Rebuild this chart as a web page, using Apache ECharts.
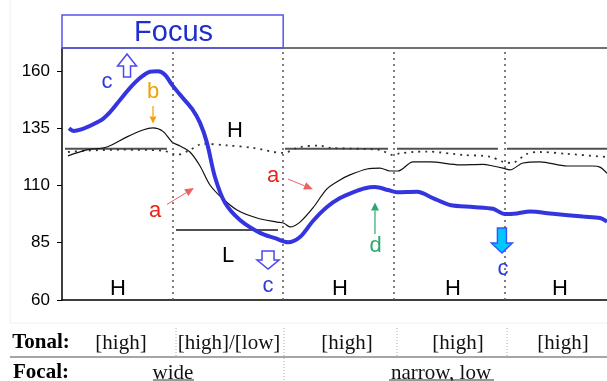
<!DOCTYPE html>
<html><head><meta charset="utf-8">
<script src="https://cdn.jsdelivr.net/npm/echarts@6/dist/echarts.min.js"></script>
<style>html,body{margin:0;padding:0;background:#fff;}#c{width:607px;height:381px;}</style>
</head><body><div id="c"></div>
<script>
// ---- data (x in syllable units, y = F0 in Hz) ----
const yTicks = [60, 85, 110, 135, 160];
const boundaries = [1, 2, 3, 4];
const focusX = [0.063,0.108,0.344,0.434,0.524,0.615,0.705,0.796,0.868,0.931,0.995,1.085,1.175,1.248,1.311,1.383,1.474,1.609,1.790,1.926,2.043,2.152,2.269,2.396,2.514,2.631,2.740,2.830,2.948,3.029,3.210,3.354,3.508,3.716,3.897,4.005,4.114,4.231,4.439,4.711,4.864,4.928];
const focusF0 = [135,133.8,138.2,142,147.3,152.6,156.9,159.6,159.8,158.3,153.9,148.6,143.5,137.3,128.6,113.7,102.4,94.9,89.3,87,85.2,87.5,94.5,100.6,104.5,107,108.8,109.3,108,107,107.2,104.5,101.5,100.6,99.8,97.5,97.8,98.6,97.6,96.4,95.8,94.2];
const neutralX = [0.054,0.226,0.407,0.588,0.732,0.823,0.913,0.995,1.067,1.157,1.248,1.338,1.447,1.582,1.763,1.944,2.007,2.061,2.152,2.269,2.396,2.514,2.604,2.758,2.875,2.966,3.038,3.174,3.327,3.600,3.807,3.897,3.987,4.051,4.168,4.322,4.566,4.801,4.864,4.928];
const neutralF0 = [122.9,125.5,126.8,131.2,134.2,135.1,133.6,129,127.2,124.6,118.5,110.2,104.5,99.3,95.8,94,93.5,91.9,94,100.2,108.5,112.4,114.6,117.2,117.6,116.3,116.3,120.3,120.3,119,119.2,118.5,117.6,116.8,119.8,120.3,118.5,118.5,118,115.3];
const dottedX = [0.054,0.226,0.524,0.913,1.040,1.157,1.275,1.492,1.727,2.000,2.152,2.333,2.423,2.875,2.993,3.056,3.174,3.300,3.625,3.870,3.987,4.068,4.205,4.322,4.566,4.928];
const dottedF0 = [124.6,125.2,125.6,125.2,123.3,125.5,128.2,127.5,126.4,124.2,126.8,127.4,126.4,125.5,123.3,124,124.6,124.8,123.3,122.6,120.3,119.8,123.8,124.6,123.8,122.4];
const hLevel = 126;
const hSpans = [[0.027,0.949],[2.016,2.948],[3.029,3.942],[4.023,4.928]];
const lLevel = 90.6;
const lSpans = [[1.031,1.953]];
const bottomTones = [[0.506,'H'],[2.514,'H'],[3.535,'H'],[4.503,'H']];
const tonalLabels = ['[high]','[high]/[low]','[high]','[high]','[high]'];
const focalLabels = ['wide','narrow, low'];

const chart = echarts.init(document.getElementById('c'), null, {renderer:'canvas'});
const zip = (xs, ys) => xs.map((x,i)=>[x, ys[i]]);
const refSeries = [];
hSpans.forEach(s => refSeries.push({type:'line', data:[[s[0],hLevel],[s[1],hLevel]], symbol:'none', silent:true, lineStyle:{color:'#505050', width:2}, z:2}));
lSpans.forEach(s => refSeries.push({type:'line', data:[[s[0],lLevel],[s[1],lLevel]], symbol:'none', silent:true, lineStyle:{color:'#505050', width:2}, z:2}));

const option = {
  animation:false,
  backgroundColor:'#fff',
  grid:{left:62, top:48, right:0, bottom:81, containLabel:false},
  xAxis:[
    {type:'value', min:0, max:4.928, position:'bottom', axisLine:{show:true, onZero:false, lineStyle:{color:'#000', width:1.5}}, axisTick:{show:false}, axisLabel:{show:false}, splitLine:{show:false}},
    {type:'value', min:0, max:4.928, position:'top', axisLine:{show:true, onZero:false, lineStyle:{color:'#444', width:1.5}}, axisTick:{show:false}, axisLabel:{show:false}, splitLine:{show:false}}
  ],
  yAxis:{type:'value', min:60, max:170, axisLine:{show:true, lineStyle:{color:'#000', width:1.5}},
    axisTick:{show:true, length:5, lineStyle:{color:'#000'}, customValues:yTicks},
    axisLabel:{color:'#000', fontSize:17, fontFamily:'Liberation Sans, Arial, sans-serif', margin:12, customValues:yTicks},
    splitLine:{show:false}},
  series:[
    {type:'line', data:zip(dottedX,dottedF0), symbol:'none', smooth:0.3, lineStyle:{color:'#333', width:1.8, type:[2,5]}, z:3,
     markLine:{silent:true, symbol:'none', label:{show:false}, lineStyle:{color:'#555', width:1.5, type:[2,4]}, data:boundaries.map(b=>({xAxis:b}))}},
    {type:'line', data:zip(neutralX,neutralF0), symbol:'none', smooth:0.3, lineStyle:{color:'#111', width:1.2}, z:4},
    ...refSeries,
    {type:'line', data:zip(focusX,focusF0), symbol:'none', smooth:0.3, lineStyle:{color:'#3535e0', width:4}, z:5}
  ]
};
chart.setOption(option);

const P = (u,v) => chart.convertToPixel({gridIndex:0}, [u,v]);
const FONT = 'Liberation Sans, Arial, sans-serif';
const SERIF = 'Liberation Serif, Times New Roman, serif';
const g = [];
function txt(x,y,t,color,size,font,weight){
  g.push({type:'text', x:x, y:y, silent:true, z:20, style:{text:t, fill:color, font:(weight||'normal')+' '+size+'px '+(font||FONT), align:'center', verticalAlign:'middle'}});
}
function dtxt(u,v,t,color,size){ const p=P(u,v); txt(p[0],p[1],t,color,size); }
function arrow(u0,v0,u1,v1,color,w,hl,hw){
  const a=P(u0,v0), b=P(u1,v1);
  const dx=b[0]-a[0], dy=b[1]-a[1], L=Math.hypot(dx,dy), ux=dx/L, uy=dy/L;
  const bx=b[0]-ux*hl, by=b[1]-uy*hl;
  g.push({type:'line', silent:true, z:20, shape:{x1:a[0],y1:a[1],x2:bx,y2:by}, style:{stroke:color, lineWidth:w}});
  g.push({type:'polygon', silent:true, z:20, shape:{points:[[b[0],b[1]],[bx-uy*hw,by+ux*hw],[bx+uy*hw,by-ux*hw]]}, style:{fill:color}});
}
function bigArrow(u,vTop,vBot,up,headH,headHW,shaftHW,fill,stroke){
  const t=P(u,vTop), b=P(u,vBot); const cx=t[0], ty=t[1], by=b[1];
  let pts;
  if(up){ pts=[[cx,ty],[cx+headHW,ty+headH],[cx+shaftHW,ty+headH],[cx+shaftHW,by],[cx-shaftHW,by],[cx-shaftHW,ty+headH],[cx-headHW,ty+headH]]; }
  else { pts=[[cx,by],[cx+headHW,by-headH],[cx+shaftHW,by-headH],[cx+shaftHW,ty],[cx-shaftHW,ty],[cx-shaftHW,by-headH],[cx-headHW,by-headH]]; }
  g.push({type:'polygon', silent:true, z:20, shape:{points:pts}, style:{fill:fill, stroke:stroke, lineWidth:1.5}});
}
// Focus box
const f0=P(0,170), f1=P(2,170);
g.push({type:'rect', silent:true, z:20, shape:{x:f0[0], y:15, width:f1[0]-f0[0], height:f0[1]-15}, style:{fill:'none', stroke:'#5555ee', lineWidth:1.5}});
txt((f0[0]+f1[0])/2+1, 33, 'Focus', '#1f2fcc', 29, FONT);
// annotations
dtxt(0.407,155.2,'c','#2a3ad8',22);
bigArrow(0.588,167.4,157.3,true,12,9.5,3.5,'#fff','#4a4aee');
dtxt(0.823,150.8,'b','#f5a000',22);
arrow(0.823,144.7,0.823,137.0,'#f5a000',1.2,7,3.5);
dtxt(1.564,133.8,'H','#000',22);
dtxt(0.841,98.8,'a','#e8251a',22);
arrow(0.949,101.7,1.193,108.9,'#f06060',1,9,4);
dtxt(1.908,114.1,'a','#e8251a',22);
arrow(2.043,112.8,2.269,108.3,'#f06060',1,9,4);
dtxt(1.501,79.2,'L','#000',22);
bigArrow(1.863,81.4,73.5,false,9,11,6,'#fff','#4a4aee');
dtxt(1.863,66.3,'c','#2a3ad8',22);
dtxt(2.835,83.4,'d','#2ca870',22);
arrow(2.830,88.8,2.830,102.6,'#2ca870',1.2,8,4);
bigArrow(3.978,91.4,80.5,false,10,10.5,4.5,'#00c8ff','#3355ff');
dtxt(3.987,73.5,'c','#2a3ad8',22);
bottomTones.forEach(t=>dtxt(t[0],64.8,t[1],'#000',22));
// faint frame
g.push({type:'line', silent:true, shape:{x1:10,y1:0,x2:10,y2:323}, style:{stroke:'#efefef', lineWidth:1}});
g.push({type:'line', silent:true, shape:{x1:10,y1:323,x2:607,y2:323}, style:{stroke:'#efefef', lineWidth:1}});
// table
txt(41,343,'Tonal:','#000',21,SERIF,'bold');
const tonalCenters=[121,229,347,458,563];
tonalLabels.forEach((t,i)=>txt(tonalCenters[i],343,t,'#111',21,SERIF));
[176,284,397,507].forEach(x=>g.push({type:'line', silent:true, shape:{x1:x,y1:328,x2:x,y2:357}, style:{stroke:'#aaa', lineWidth:1, lineDash:[1,2]}}));
g.push({type:'line', silent:true, shape:{x1:10,y1:357,x2:607,y2:357}, style:{stroke:'#888', lineWidth:1.5}});
g.push({type:'line', silent:true, shape:{x1:284,y1:358,x2:284,y2:381}, style:{stroke:'#aaa', lineWidth:1, lineDash:[1,2]}});
txt(41,373,'Focal:','#000',21,SERIF,'bold');
txt(173,373,focalLabels[0],'#111',21,SERIF);
txt(441,373,focalLabels[1],'#111',21,SERIF);
g.push({type:'line', silent:true, shape:{x1:153,y1:380,x2:194,y2:380}, style:{stroke:'#333', lineWidth:1}});
g.push({type:'line', silent:true, shape:{x1:389,y1:380,x2:494,y2:380}, style:{stroke:'#333', lineWidth:1}});
chart.setOption({graphic:g});
</script></body></html>
